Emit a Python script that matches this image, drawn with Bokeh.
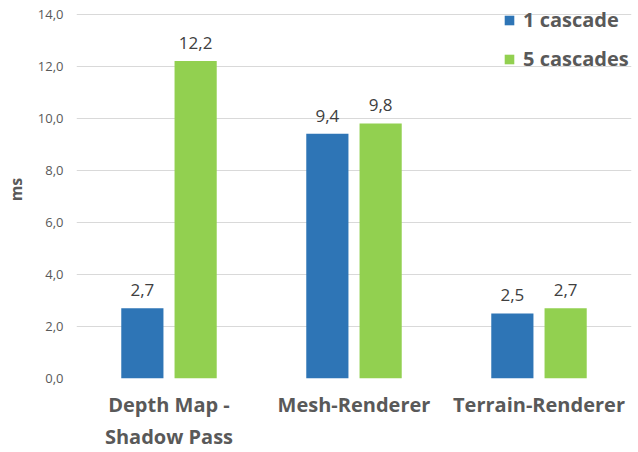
from bokeh.plotting import figure
from bokeh.models import (ColumnDataSource, Range1d, FixedTicker, CustomJSTickFormatter,
                          Legend, LegendItem)
from bokeh.transform import dodge
from bokeh.core.properties import value
from bokeh.embed import file_html
from bokeh.resources import INLINE

categories = ["Depth Map -\nShadow Pass", "Mesh-Renderer", "Terrain-Renderer"]
one_cascade = [2.7, 9.4, 2.5]
five_cascades = [12.2, 9.8, 2.7]
y_ticks = [0, 2, 4, 6, 8, 10, 12, 14]
series_names = ["1 cascade", "5 cascades"]

FONT = "Open Sans"
BLUE = "#2E75B6"
GREEN = "#92D050"
GRAY = "#595959"

def fmt(v):
    return f"{v:.1f}".replace(".", ",")

source = ColumnDataSource(data=dict(
    cat=categories,
    one=one_cascade,
    five=five_cascades,
    one_lbl=[fmt(v) for v in one_cascade],
    five_lbl=[fmt(v) for v in five_cascades],
))

p = figure(x_range=categories, y_range=Range1d(0, 14.52), width=638, height=452,
           output_backend="svg", toolbar_location=None,
           min_border_left=76, min_border_right=7, min_border_top=0, min_border_bottom=72)
p.outline_line_color = None
p.background_fill_color = "white"
p.border_fill_color = "white"

off = 0.144
bw = 0.228
r1 = p.vbar(x=dodge("cat", -off, range=p.x_range), top="one", width=bw, source=source,
            fill_color=BLUE, line_color=None)
r2 = p.vbar(x=dodge("cat", off, range=p.x_range), top="five", width=bw, source=source,
            fill_color=GREEN, line_color=None)

for col, lbl, o in (("one", "one_lbl", -off), ("five", "five_lbl", off)):
    p.text(x=dodge("cat", o, range=p.x_range), y=col, text=lbl, source=source,
           text_align="center", text_baseline="alphabetic", y_offset=-18,
           text_font=value(FONT), text_font_size="17px", text_color="#404040")

p.xgrid.grid_line_color = None
p.ygrid.grid_line_color = "#D9D9D9"
p.ygrid.grid_line_width = 1

p.yaxis.ticker = FixedTicker(ticks=y_ticks)
p.yaxis.formatter = CustomJSTickFormatter(code="return tick.toFixed(1).replace('.', ',');")
for ax in (p.xaxis[0], p.yaxis[0]):
    ax.axis_line_color = None
    ax.major_tick_line_color = None
    ax.minor_tick_line_color = None
    ax.major_tick_out = 0
    ax.major_tick_in = 0
    ax.minor_tick_out = 0
    ax.minor_tick_in = 0
    ax.major_label_text_font = FONT
    ax.major_label_text_color = GRAY

p.yaxis.major_label_text_font_size = "13px"
p.yaxis.major_label_standoff = 13
p.yaxis.axis_label = "ms"
p.yaxis.axis_label_text_font = FONT
p.yaxis.axis_label_text_font_style = "bold"
p.yaxis.axis_label_text_font_size = "16px"
p.yaxis.axis_label_text_color = GRAY
p.yaxis.axis_label_standoff = 8

p.xaxis.major_label_text_font_size = "20px"
p.xaxis.major_label_text_font_style = "bold"
p.xaxis.major_label_standoff = 12

legend = Legend(items=[LegendItem(label=series_names[0], renderers=[r1]),
                       LegendItem(label=series_names[1], renderers=[r2])],
                location=(427, 306), padding=0, margin=0, spacing=12,
                glyph_width=12, glyph_height=12, label_standoff=8,
                label_text_font=FONT, label_text_font_style="bold",
                label_text_font_size="20px", label_text_color=GRAY,
                border_line_color=None, background_fill_alpha=0)
p.add_layout(legend)

open("out.html", "w").write(file_html(p, INLINE))
